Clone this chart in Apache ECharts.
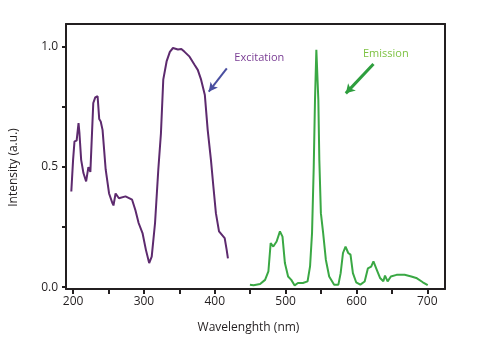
<!DOCTYPE html>
<html><head><meta charset="utf-8">
<script src="https://cdn.jsdelivr.net/npm/echarts@6/dist/echarts.min.js"></script>
<style>html,body{margin:0;padding:0;background:#fff}#c{width:483px;height:348px}</style>
</head><body><div id="c"></div>
<script>
const excitationX = [197.5,200,202,205,207.7,209,211.4,214.6,218.4,221.6,224.4,228.5,231.3,234.6,236.9,239,241.6,246,250.8,255.5,257,260,264.7,274,283.3,288,292.5,298,302.8,307.4,311,315.7,320.3,324,327.3,332,336.6,341,348,352.8,357.4,364.4,371.4,376,380.7,386,390,394.6,398,401.6,406,408.5,414,416.8,418.6];
const excitationY = [0.398,0.53,0.607,0.61,0.683,0.64,0.53,0.475,0.44,0.50,0.48,0.767,0.79,0.795,0.70,0.69,0.655,0.49,0.39,0.35,0.34,0.39,0.37,0.378,0.364,0.32,0.267,0.225,0.155,0.10,0.127,0.267,0.49,0.64,0.864,0.94,0.98,0.996,0.99,0.992,0.98,0.96,0.926,0.905,0.864,0.80,0.655,0.53,0.42,0.308,0.232,0.23,0.204,0.155,0.12];
const emissionX = [449.6,454.8,464,471,475.7,478.9,482.6,487.3,492,495.6,499,503.5,508,512.8,517.4,524.4,531,534.5,537.3,539.7,541.5,543.4,545.2,546.2,547.6,549.8,553,556.8,561.5,568.5,574.5,577.7,581,584.6,588.4,591.6,595,599.6,605.5,611.6,616.2,620.8,624,628.7,633.3,638,640.3,644,648.6,656.6,668,677.4,684.4,693.7,700.6];
const emissionY = [0.01,0.008,0.013,0.03,0.065,0.183,0.169,0.19,0.232,0.21,0.10,0.044,0.03,0.007,0.017,0.017,0.024,0.086,0.225,0.50,0.78,0.989,0.989,0.78,0.53,0.308,0.225,0.114,0.044,0.01,0.01,0.058,0.142,0.169,0.142,0.135,0.058,0.02,0.01,0.023,0.078,0.085,0.107,0.072,0.038,0.024,0.048,0.024,0.044,0.051,0.051,0.044,0.038,0.02,0.008];
const xTicks = [200,250,300,350,400,450,500,550,600,650,700];
const xLabels = [200,300,400,500,600,700];
const yTicks = [0,0.25,0.5,0.75,1.0];
const yLabels = [0,0.5,1.0];
const seriesNames = ['Excitation','Emission'];

const zip = (a,b) => a.map((v,i)=>[v,b[i]]);
const font = "'Open Sans', sans-serif";
const ink = '#231f20';
const frameAxis = {type:'value', axisLine:{show:true, onZero:false, lineStyle:{color:ink, width:2}}, axisTick:{show:false}, axisLabel:{show:false}, splitLine:{show:false}};
const chart = echarts.init(document.getElementById('c'), null, {renderer:'canvas'});
chart.setOption({
  animation:false,
  grid:{left:60, top:24, right:38, bottom:59},
  xAxis:[{type:'value', min:190, max:725, position:'bottom',
    name:'Wavelenghth (nm)', nameLocation:'middle', nameGap:33,
    nameTextStyle:{color:ink, fontFamily:font, fontSize:12, padding:[0,14,0,0]},
    axisLine:{onZero:false, lineStyle:{color:ink, width:2}},
    axisTick:{show:true, length:5, inside:false, customValues:xTicks, lineStyle:{color:ink, width:2}},
    axisLabel:{customValues:xLabels, color:ink, fontFamily:font, fontSize:12, margin:7},
    splitLine:{show:false}},
    Object.assign({}, frameAxis, {min:190, max:725, position:'top'})],
  yAxis:[{type:'value', min:-0.008, max:1.096, position:'left',
    name:'Intensity (a.u.)', nameLocation:'middle', nameGap:46,
    nameTextStyle:{color:ink, fontFamily:font, fontSize:12, padding:[0,22,0,0]},
    axisLine:{onZero:false, lineStyle:{color:ink, width:2}},
    axisTick:{show:true, length:4, inside:false, customValues:yTicks, lineStyle:{color:ink, width:2}},
    axisLabel:{customValues:yLabels, formatter:v=>v.toFixed(1), color:ink, fontFamily:font, fontSize:12, margin:8},
    splitLine:{show:false}},
    Object.assign({}, frameAxis, {min:-0.008, max:1.096, position:'right'})],
  series:[
    {name:seriesNames[0], type:'line', data:zip(excitationX,excitationY), symbol:'none',
     lineStyle:{color:'#5d2a6e', width:2}, z:3,
     markLine:{silent:true, symbol:['none','arrow'], symbolSize:[7,9],
       lineStyle:{color:'#4a4fa0', width:2, type:'solid'}, label:{show:false},
       data:[[{coord:[417,0.911]},{coord:[391.5,0.814]}]]},
     markPoint:{silent:true, symbol:'circle', symbolSize:0,
       label:{show:true, formatter:'Excitation', position:'right', color:'#7a3d94', fontFamily:font, fontSize:11, distance:0},
       data:[{coord:[427.6,0.957]}]}},
    {name:seriesNames[1], type:'line', data:zip(emissionX,emissionY), symbol:'none',
     lineStyle:{color:'#3aa844', width:2}, z:3,
     markLine:{silent:true, symbol:['none','arrow'], symbolSize:[8,9],
       lineStyle:{color:'#2e9e3e', width:3, type:'solid'}, label:{show:false},
       data:[[{coord:[624,0.929]},{coord:[585,0.807]}]]},
     markPoint:{silent:true, symbol:'circle', symbolSize:0,
       label:{show:true, formatter:'Emission', position:'right', color:'#7dc242', fontFamily:font, fontSize:11, distance:0},
       data:[{coord:[609.2,0.971]}]}}
  ]
});
</script></body></html>
